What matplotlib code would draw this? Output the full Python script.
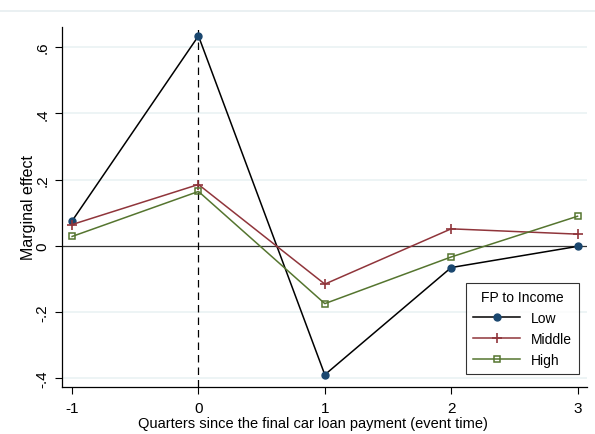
import matplotlib
matplotlib.use("Agg")
import matplotlib.pyplot as plt
from matplotlib.lines import Line2D

plt.rcParams['font.family'] = ['Liberation Sans', 'DejaVu Sans']

quarters = [-1, 0, 1, 2, 3]
low = [0.075, 0.634, -0.390, -0.066, -0.002]
middle = [0.064, 0.185, -0.116, 0.051, 0.035]
high = [0.028, 0.164, -0.175, -0.034, 0.089]

yticks = [-0.4, -0.2, 0, 0.2, 0.4, 0.6]
ytick_labels = ["-.4", "-.2", "0", ".2", ".4", ".6"]
xticks = [-1, 0, 1, 2, 3]

navy = "#1a476f"
maroon = "#90353b"
green = "#55752f"
grid = "#eaf2f3"

fig = plt.figure(figsize=(5.95, 4.35), dpi=100)
ax = fig.add_axes([62/595, 47/435, 525/595, 360/435])

# faint outer border of the graph region
fig.add_artist(Line2D([0, 1], [1 - 12/435, 1 - 12/435], transform=fig.transFigure,
                      color="#e6eef0", lw=1.2))

for y in yticks:
    if y != 0:
        ax.axhline(y, color=grid, lw=1.2, zorder=0)
ax.axhline(0, color="#333333", lw=0.9, zorder=1)
ax.axvline(0, color="black", lw=0.9, ls=(0, (6, 4)), zorder=1)

ax.plot(quarters, low, color="black", lw=1.1, marker="o", ms=5,
        mfc=navy, mec=navy, label="Low", zorder=3)
ax.plot(quarters, middle, color=maroon, lw=1.1, marker="+", ms=7,
        mew=1.2, mec=maroon, label="Middle", zorder=3)
ax.plot(quarters, high, color=green, lw=1.1, marker="s", ms=4.5,
        mfc="none", mec=green, mew=1.1, label="High", zorder=3)

ax.set_xlim(-1.08, 3.075)
ax.set_ylim(-0.427, 0.661)
ax.set_yticks(yticks)
ax.set_yticklabels(ytick_labels, rotation=90, va="center", fontsize=11)
ax.set_xticks(xticks)
ax.set_xticklabels([str(x) for x in xticks], fontsize=11)
ax.tick_params(axis="both", direction="out", length=5, width=0.8, color="black")
ax.tick_params(axis="x", pad=5)
ax.tick_params(axis="y", pad=4)

for side in ["top", "right"]:
    ax.spines[side].set_visible(False)
for side in ["left", "bottom"]:
    ax.spines[side].set_linewidth(0.9)

ax.set_ylabel("Marginal effect", fontsize=11.5)
ax.yaxis.set_label_coords(-26/525, 0.5)
ax.set_xlabel("Quarters since the final car loan payment (event time)", fontsize=10.5)
ax.xaxis.set_label_coords((313 - 62)/525, -29/360)

leg = ax.legend(title="FP to Income", loc="lower right", bbox_to_anchor=(0.9985, 0.0175),
                fontsize=10, title_fontsize=10, frameon=True, fancybox=False,
                edgecolor="black", handlelength=3.4, borderpad=0.5, labelspacing=0.5)
leg.get_frame().set_linewidth(0.8)

fig.savefig("out.png", dpi=100, facecolor="white")
